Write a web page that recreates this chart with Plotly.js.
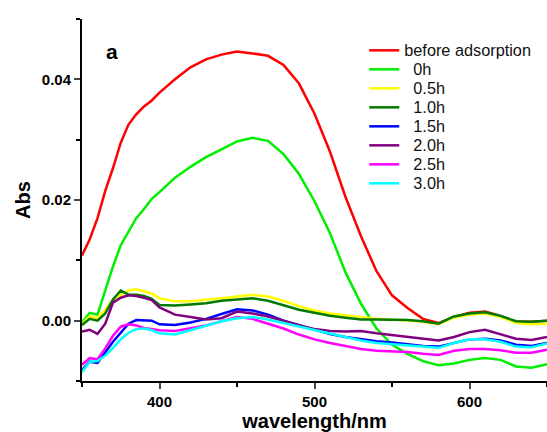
<!DOCTYPE html>
<html>
<head>
<meta charset="utf-8">
<script src="https://cdn.plot.ly/plotly-3.0.1.min.js"></script>
<style>html,body{margin:0;padding:0;background:#fff}#chart{width:547px;height:432px}</style>
</head>
<body>
<div id="chart"></div>
<script>
const wavelength = [350,355,360,365,370,375,380,385,390,395,400,410,420,430,440,450,460,470,480,490,500,510,520,530,540,550,560,570,580,590,600,610,620,630,640,650];

const beforeAdsorption = [0.0108,0.0135,0.0170,0.0215,0.0253,0.0295,0.0325,0.0342,0.0355,0.0365,0.0378,0.0400,0.0420,0.0433,0.0441,0.0446,0.0443,0.0439,0.0424,0.0393,0.0343,0.0280,0.0205,0.0140,0.0082,0.0042,0.0021,0.0003,-0.0004,0.0006,0.0013,0.0015,0.0008,-0.0002,-0.0002,0.0000];
const h0 = [-0.0003,0.0013,0.0010,0.0050,0.0090,0.0125,0.0148,0.0170,0.0185,0.0202,0.0213,0.0237,0.0255,0.0271,0.0284,0.0297,0.0303,0.0298,0.0276,0.0243,0.0198,0.0145,0.0080,0.0028,-0.0013,-0.0040,-0.0055,-0.0067,-0.0074,-0.0071,-0.0065,-0.0062,-0.0065,-0.0076,-0.0078,-0.0072];
const h05 = [-0.0005,0.0007,0.0004,0.0018,0.0035,0.0042,0.0050,0.0052,0.0048,0.0045,0.0037,0.0032,0.0032,0.0034,0.0037,0.0040,0.0043,0.0040,0.0033,0.0024,0.0017,0.0012,0.0009,0.0006,0.0003,0.0002,0.0000,-0.0002,-0.0006,0.0005,0.0010,0.0012,0.0006,-0.0004,-0.0006,-0.0005];
const h10 = [-0.0007,0.0003,0.0000,0.0012,0.0035,0.0050,0.0043,0.0043,0.0041,0.0036,0.0026,0.0025,0.0027,0.0029,0.0033,0.0035,0.0037,0.0033,0.0026,0.0018,0.0013,0.0008,0.0005,0.0002,0.0002,0.0002,0.0001,-0.0001,-0.0005,0.0007,0.0012,0.0014,0.0008,-0.0001,-0.0002,0.0000];
const h15 = [-0.0082,-0.0068,-0.0070,-0.0052,-0.0035,-0.0020,-0.0005,0.0001,0.0000,0.0000,-0.0006,-0.0007,-0.0003,0.0003,0.0011,0.0019,0.0017,0.0010,0.0000,-0.0007,-0.0015,-0.0022,-0.0027,-0.0031,-0.0034,-0.0036,-0.0039,-0.0042,-0.0043,-0.0037,-0.0031,-0.0030,-0.0033,-0.0040,-0.0042,-0.0037];
const h20 = [-0.0018,-0.0015,-0.0022,-0.0005,0.0030,0.0038,0.0042,0.0041,0.0038,0.0034,0.0022,0.0010,0.0006,0.0002,0.0004,0.0015,0.0012,0.0007,0.0000,-0.0008,-0.0014,-0.0017,-0.0018,-0.0017,-0.0021,-0.0024,-0.0027,-0.0030,-0.0033,-0.0027,-0.0019,-0.0015,-0.0023,-0.0030,-0.0032,-0.0027];
const h25 = [-0.0073,-0.0062,-0.0064,-0.0046,-0.0025,-0.0010,-0.0006,-0.0008,-0.0012,-0.0014,-0.0016,-0.0017,-0.0013,-0.0008,-0.0001,0.0006,0.0003,-0.0005,-0.0013,-0.0023,-0.0031,-0.0037,-0.0042,-0.0047,-0.0050,-0.0051,-0.0052,-0.0055,-0.0057,-0.0050,-0.0047,-0.0047,-0.0049,-0.0053,-0.0053,-0.0048];
const h30 = [-0.0085,-0.0068,-0.0067,-0.0058,-0.0045,-0.0031,-0.0020,-0.0014,-0.0013,-0.0016,-0.0021,-0.0023,-0.0016,-0.0009,-0.0001,0.0004,0.0006,0.0002,-0.0004,-0.0009,-0.0015,-0.0022,-0.0027,-0.0033,-0.0037,-0.0039,-0.0042,-0.0043,-0.0045,-0.0037,-0.0031,-0.0031,-0.0035,-0.0043,-0.0044,-0.0038];

const seriesNames = ["before adsorption","\u00a0\u00a00h","\u00a0\u00a00.5h","\u00a0\u00a01.0h","\u00a0\u00a01.5h","\u00a0\u00a02.0h","\u00a0\u00a02.5h","\u00a0\u00a03.0h"];
const seriesValues = [beforeAdsorption,h0,h05,h10,h15,h20,h25,h30];
const seriesColors = ["#ff0000","#00ee00","#ffff00","#007a00","#0000ff","#800080","#ff00ff","#00ffff"];

const yTickVals = [0,0.02,0.04];
const yTickText = ["0.00","0.02","0.04"];
const xTickVals = [400,500,600];

const traces = seriesValues.map((v,i)=>({
  x: wavelength, y: v, type:'scatter', mode:'lines', name: seriesNames[i],
  line:{color: seriesColors[i], width:2.5}
}));

const layout = {
  width:547, height:432,
  margin:{l:82,r:0,t:19,b:51},
  paper_bgcolor:'#fff', plot_bgcolor:'#fff',
  font:{family:'Arial, Liberation Sans, sans-serif', color:'#000'},
  showlegend:true,
  legend:{x:0.607, y:0.9535, xanchor:'left', yanchor:'top', bgcolor:'rgba(0,0,0,0)',
    font:{size:12, family:'Arial, Liberation Sans, sans-serif', color:'#111'}, tracegroupgap:0},
  xaxis:{range:[350,650], tickvals:xTickVals, ticks:'outside', ticklen:6, tickwidth:2,
    showline:true, linewidth:2, linecolor:'#000', showgrid:false, zeroline:false,
    tickfont:{size:15, weight:'bold'},
    minor:{dtick:50, tick0:350, ticks:'outside', ticklen:4, tickwidth:2, tickcolor:'#000', showgrid:false},
    title:{text:'wavelength/nm', font:{size:20, weight:'bold'}, standoff:8}},
  yaxis:{range:[-0.01,0.05], tickvals:yTickVals, ticktext:yTickText, ticks:'outside', ticklen:6, tickwidth:2,
    showline:true, linewidth:2, linecolor:'#000', showgrid:false, zeroline:false,
    tickfont:{size:15, weight:'bold'},
    minor:{dtick:0.01, tick0:-0.01, ticks:'outside', ticklen:4, tickwidth:2, tickcolor:'#000', showgrid:false},
    title:{text:'Abs', font:{size:20, weight:'bold'}, standoff:6}},
  annotations:[{text:'a', xref:'paper', yref:'paper', x:0.064, y:0.909, xanchor:'center', yanchor:'middle',
    showarrow:false, font:{size:21, weight:'bold', color:'#000'}}]
};
Plotly.newPlot('chart', traces, layout, {displayModeBar:false, staticPlot:true}).then(gd=>{
  gd.querySelectorAll('.legendtext').forEach(t=>{
    t.style.fontSize='16.3px';
    t.setAttribute('y','5.5');
  });
  gd.querySelectorAll('.legend [clip-path]').forEach(e=>e.removeAttribute('clip-path'));
});
</script>
</body>
</html>
